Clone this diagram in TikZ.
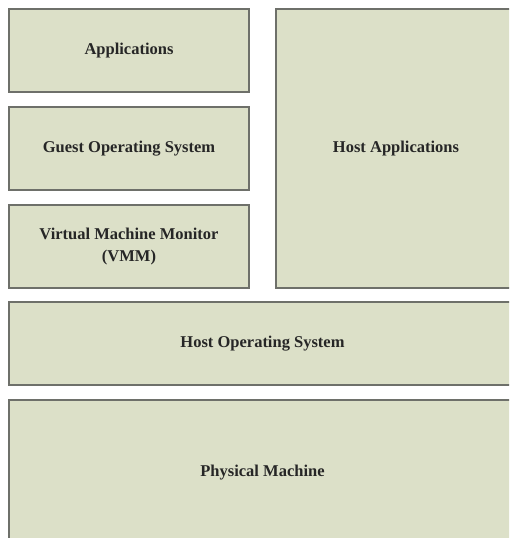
\documentclass[tikz,border=0pt]{standalone}
\usepackage{fontspec}
\setmainfont{Liberation Serif}
\usepackage{tikz}
\definecolor{layerfill}{HTML}{DCE0C8}
\definecolor{layerline}{HTML}{6E706A}
\definecolor{layertext}{HTML}{262626}

\begin{document}
\begin{tikzpicture}[x=1pt, y=-1pt]
    \useasboundingbox (0,0) rectangle (509,538);
    \begin{scope}[layer/.style={draw=layerline, fill=layerfill, text=layertext, line width=1.3pt, inner sep=0, outer sep=0, anchor=north west, align=center, font=\fontsize{16.5}{22}\selectfont\bfseries}]
        \clip (0,0) rectangle (509,538);
        \node [layer, minimum width=240pt, minimum height=83pt] (apps) at (9,9) {Applications};
        \node [layer, minimum width=240pt, minimum height=83pt] (guest) at (9,107) {Guest Operating System};
        \node [layer, minimum width=240pt, minimum height=83pt] (vmm) at (9,205) {Virtual Machine Monitor\\(VMM)};
        \node [layer, minimum width=240pt, minimum height=279pt] (hostapps) at (276,9) {Host Applications};
        \node [layer, minimum width=507pt, minimum height=83pt] (hostos) at (9,302) {Host Operating System};
        \node [layer, minimum width=507pt, minimum height=145pt] (phys) at (9,400) {Physical Machine};
    \end{scope}
\end{tikzpicture}
\end{document}
